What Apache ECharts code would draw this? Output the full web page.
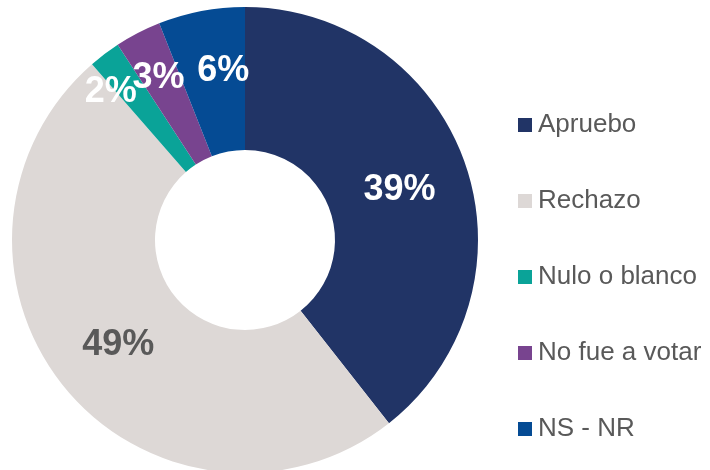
<!DOCTYPE html>
<html>
<head>
<meta charset="utf-8">
<script src="https://cdn.jsdelivr.net/npm/echarts@6/dist/echarts.min.js"></script>
<style>
  html, body { margin: 0; padding: 0; background: #fff; }
  #chart { width: 710px; height: 470px; }
</style>
</head>
<body>
<div id="chart"></div>
<script>
const categories = ['Apruebo', 'Rechazo', 'Nulo o blanco', 'No fue a votar', 'NS - NR']
const values = [39.4, 49.2, 2.2, 3.2, 6.0]

const colors = ['#213466', '#ddd8d6', '#0aa398', '#78448f', '#054b94']
const labelColors = ['#fff', '#595959', '#fff', '#fff', '#fff']
// manual nudges for the labels, like the moved labels in the original
const labelOffsets = [[-1, 4], [0, 0], [-35, -17], [-11, -16], [9, -7]]

const chart = echarts.init(document.getElementById('chart'))

chart.setOption({
  animation: false,
  legend: {
    orient: 'vertical',
    left: 513,
    top: 107,
    itemWidth: 14,
    itemHeight: 14,
    itemGap: 50,
    icon: 'rect',
    data: categories,
    textStyle: {
      fontFamily: 'Liberation Sans, Arial, sans-serif',
      fontSize: 26,
      color: '#595959',
      lineHeight: 26,
      padding: [0, 0, 0, 1]
    }
  },
  series: [{
    type: 'pie',
    center: [245, 240],
    radius: [90, 233],
    startAngle: 90,
    clockwise: true,
    avoidLabelOverlap: false,
    minShowLabelAngle: 0,
    labelLayout: { hideOverlap: false },
    label: {
      show: true,
      position: 'inside',
      formatter: (p) => Math.round(p.value) + '%',
      fontFamily: 'Liberation Sans, Arial, sans-serif',
      fontSize: 36,
      fontWeight: 'bold'
    },
    labelLine: { show: false },
    data: categories.map((name, i) => ({
      name,
      value: values[i],
      itemStyle: { color: colors[i] },
      label: { color: labelColors[i], offset: labelOffsets[i] }
    }))
  }]
})
</script>
</body>
</html>
